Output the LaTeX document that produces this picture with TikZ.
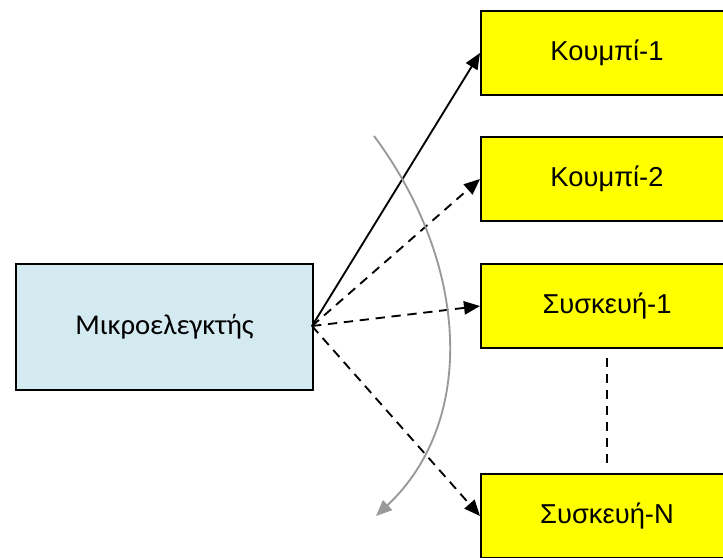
\documentclass[tikz,border=0pt]{standalone}
\usepackage{fontspec}
\setmainfont{Liberation Sans}
\newfontfamily\mcfont{Carlito}
\usetikzlibrary{arrows.meta}
\definecolor{mcblue}{HTML}{D3EAF0}
\definecolor{devyellow}{HTML}{FFFF00}
\definecolor{sweepgray}{HTML}{999999}
\begin{document}
\begin{tikzpicture}[x=0.75pt,y=-0.75pt,
  box/.style={draw=black,line width=1.5pt,minimum width=252*0.75pt,anchor=north west,inner sep=0pt,font=\fontsize{20.5}{24}\selectfont},
  devbox/.style={box,fill=devyellow},
  link/.style={line width=1.4pt,-{Triangle[length=12pt,width=10pt]}},
  dlink/.style={link,dash pattern=on 7pt off 5pt}]
\useasboundingbox (0,0) rectangle (723,557);
\begin{scope}
\clip (0,0) rectangle (723,557);
\node[box,fill=mcblue,minimum width=297*0.75pt,minimum height=126*0.75pt,font=\mcfont\fontsize{21.5}{25}\selectfont] (mc) at (15,263) {Μικροελεγκτής};
\node[devbox,minimum height=84*0.75pt] (k1) at (480,10) {Κουμπί-1};
\node[devbox,minimum height=84*0.75pt] (k2) at (480,136) {Κουμπί-2};
\node[devbox,minimum height=84*0.75pt] (s1) at (480,263) {Συσκευή-1};
\node[devbox,minimum height=84*0.75pt] (sn) at (480,473) {Συσκευή-N};
\coordinate (src) at (312,326);
\coordinate (dtop) at (607,358);
\coordinate (dbot) at (607,465);
\coordinate (gs) at (374,136);
\coordinate (ge) at (376,516);
\draw[link] (src) -- (k1.west);
\draw[dlink] (src) -- (k2.west);
\draw[dlink] (src) -- (s1.west);
\draw[dlink] (src) -- (sn.west);
\draw[line width=1.4pt,dash pattern=on 7pt off 5pt] (dtop) -- (dbot);
\draw[sweepgray,line width=1.4pt,-{Triangle[length=12pt,width=10pt]}] (gs) .. controls (468,262) and (478,420) .. (ge);
\end{scope}
\end{tikzpicture}
\end{document}
